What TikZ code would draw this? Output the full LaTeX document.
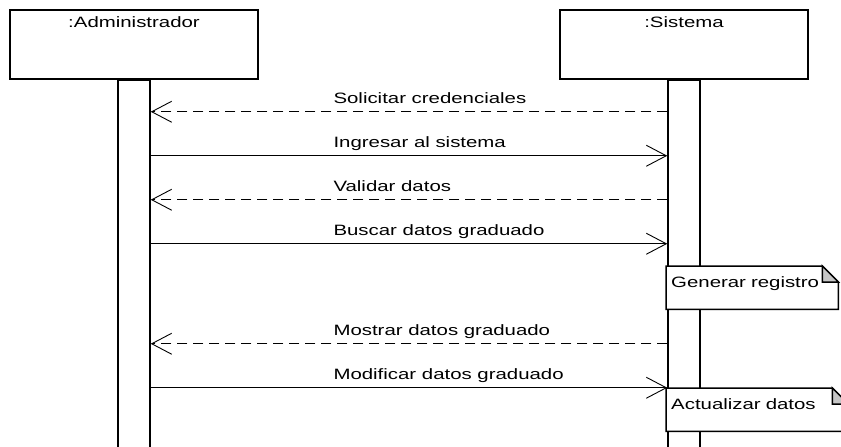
\documentclass[tikz,border=0pt]{standalone}
\usepackage{fontspec}
\setmainfont{Liberation Sans}[FakeStretch=1.36]
\usepackage{tikz}
\usetikzlibrary{arrows.meta,positioning,calc}

\begin{document}
\begin{tikzpicture}[x=1pt,y=-1pt,
    lifebox/.style={draw,line width=1.5pt,minimum width=248pt,minimum height=69pt,inner sep=0pt},
    actbar/.style={draw,line width=1.5pt,fill=white,minimum width=32pt,minimum height=370pt,inner sep=0pt,anchor=north},
    uml/.style={font=\fontsize{15}{18}\selectfont,inner sep=0pt},
    call/.style={line width=0.9pt,-{Straight Barb[length=20pt,width=21pt,line width=0.9pt]}},
    reply/.style={call,dash pattern=on 10pt off 6pt},
    msg/.style={uml,anchor=base west,yshift=8pt},
    note/.style={uml,fill=white,anchor=north west,inner xsep=5pt,inner ysep=0pt,text height=21pt,text depth=22pt,align=left},
    notepen/.style={line width=1.5pt}]
                        \useasboundingbox (0,0) rectangle (841,447);
                        \clip (0,0) rectangle (841,447);
                        \node[lifebox] (adm) at (134,44.5) {};
                        \node[lifebox] (sis) at (684,44.5) {};
                        \node[uml,below=7pt of adm.north] (admname) {:Administrador};
                        \node[uml,below=7pt of sis.north] (sisname) {:Sistema};
                        \node[actbar] (admbar) at (adm.south) {};
                        \node[actbar] (sisbar) at (sis.south) {};
                        \draw[reply] ([yshift=-32pt]sisbar.north west) -- ([yshift=-32pt]admbar.north east)
                            node[msg,pos=0.647] (m1) {Solicitar credenciales};
                        \draw[call] ([yshift=-76pt]admbar.north east) -- ([yshift=-76pt]sisbar.north west)
                            node[msg,pos=0.353] (m2) {Ingresar al sistema};
                        \draw[reply] ([yshift=-120pt]sisbar.north west) -- ([yshift=-120pt]admbar.north east)
                            node[msg,pos=0.647] (m3) {Validar datos};
                        \draw[call] ([yshift=-164pt]admbar.north east) -- ([yshift=-164pt]sisbar.north west)
                            node[msg,pos=0.353] (m4) {Buscar datos graduado};
                        \draw[reply] ([yshift=-264pt]sisbar.north west) -- ([yshift=-264pt]admbar.north east)
                            node[msg,pos=0.647] (m5) {Mostrar datos graduado};
                        \draw[call] ([yshift=-308pt]admbar.north east) -- ([yshift=-308pt]sisbar.north west)
                            node[msg,pos=0.353] (m6) {Modificar datos graduado};
                        \node[note,text width=162pt] (gen) at (666,266) {Generar registro};
                        \node[note,text width=172pt] (act) at (666,388) {Actualizar datos};
                        \foreach \n in {gen,act} {
                            \draw[notepen] (\n.north west) -- ([xshift=-16pt]\n.north east) -- ([yshift=-16pt]\n.north east)
                                -- (\n.south east) -- (\n.south west) -- cycle;
                            \filldraw[notepen,fill=gray!45] ([xshift=-16pt]\n.north east) -- ([xshift=-16pt,yshift=-16pt]\n.north east)
                                -- ([yshift=-16pt]\n.north east) -- cycle;
                        }
                    \end{tikzpicture}
\end{document}
